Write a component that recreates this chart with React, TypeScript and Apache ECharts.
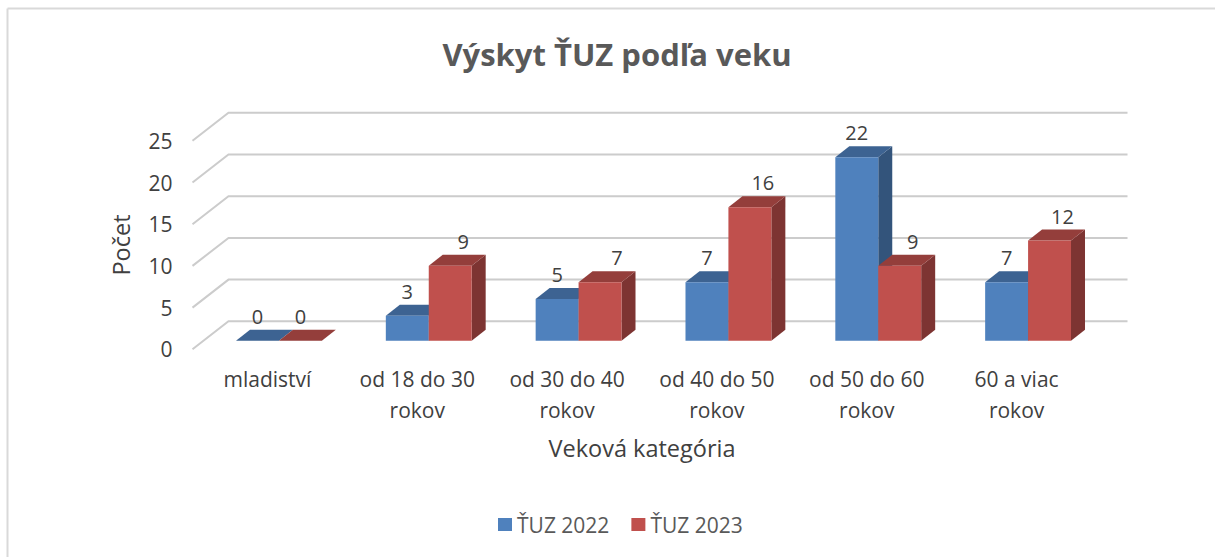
import React, { useEffect, useRef } from "react";
import * as echarts from "echarts";

const categories = [
  "mladiství",
  "od 18 do 30\nrokov",
  "od 30 do 40\nrokov",
  "od 40 do 50\nrokov",
  "od 50 do 60\nrokov",
  "60 a viac\nrokov",
];
const values2022 = [0, 3, 5, 7, 22, 7];
const values2023 = [0, 9, 7, 16, 9, 12];
const gridTicks = [0, 5, 10, 15, 20, 25];
const FONT = "'Open Sans', 'Noto Sans', sans-serif";

const darken = (hex: string, f: number) => {
  const n = parseInt(hex.slice(1), 16);
  const c = [(n >> 16) & 255, (n >> 8) & 255, n & 255].map((v) => Math.round(v * f));
  return `rgb(${c[0]},${c[1]},${c[2]})`;
};

const bar3d = (seriesIdx: number, color: string) => (params: any, api: any) => {
  const idx = api.value(0);
  const v = api.value(1);
  const band = api.size([1, 0])[0];
  const w = band * 0.2865;
  const [cx, yTop] = api.coord([idx, v]);
  const [, yBase] = api.coord([idx, 0]);
  const x0 = cx + 11.5 + (seriesIdx === 0 ? -w : 0);
  const x1 = x0 + w;
  const top = yTop - 8.6;
  const base = yBase - 8.6;
  const dx = 14;
  const dy = 11;
  const nudge = seriesIdx === 0 || v === 0 ? 0 : idx === 2 ? 17 : 13;
  return {
    type: "group",
    children: [
      { type: "polygon", shape: { points: [[x1, top], [x1 + dx, top - dy], [x1 + dx, base - dy], [x1, base]] }, style: { fill: darken(color, 0.65) } },
      { type: "polygon", shape: { points: [[x0, top], [x1, top], [x1 + dx, top - dy], [x0 + dx, top - dy]] }, style: { fill: darken(color, 0.77) } },
      { type: "rect", shape: { x: x0, y: top, width: w, height: base - top }, style: { fill: color } },
      {
        type: "text",
        style: {
          text: String(v),
          x: (x0 + x1) / 2 + nudge,
          y: top - 24.5,
          align: "center",
          verticalAlign: "middle",
          fill: "#404040",
          font: `20px ${FONT}`,
        },
      },
    ],
  };
};

const wallGrid = (params: any, api: any) => {
  const [x, y] = api.coord([0, api.value(1)]);
  const left = params.coordSys.x;
  const right = left + params.coordSys.width;
  return {
    type: "polyline",
    shape: { points: [[left, y], [left + 36, y - 28], [right + 36, y - 28]] },
    style: { fill: "none", stroke: "#cccccc", lineWidth: 2 },
  };
};

export default function App() {
  const ref = useRef<HTMLDivElement>(null);
  useEffect(() => {
    document.body.style.margin = "0";
    const chart = echarts.init(ref.current!, null, { renderer: "svg" });
    chart.setOption({
      animation: false,
      backgroundColor: "#ffffff",
      textStyle: { fontFamily: FONT },
      title: {
        text: "Výskyt ŤUZ podľa veku",
        left: 612,
        top: 33,
        textAlign: "center",
        textStyle: { fontFamily: FONT, fontSize: 31, fontWeight: "bold", color: "#595959" },
      },
      legend: {
        left: 493,
        top: 509,
        icon: "rect",
        itemWidth: 14,
        itemHeight: 13,
        itemGap: 22,
        data: ["ŤUZ 2022", "ŤUZ 2023"],
        textStyle: { fontFamily: FONT, fontSize: 21, color: "#595959" },
      },
      grid: { left: 192.5, width: 899, top: 140.8, height: 208.5 },
      xAxis: {
        type: "category",
        data: categories,
        axisLine: { show: false },
        axisTick: { show: false },
        axisLabel: { fontFamily: FONT, fontSize: 21, color: "#404040", lineHeight: 31, margin: 14, interval: 0 },
        name: "Veková kategória",
        nameLocation: "middle",
        nameGap: 87,
        nameTextStyle: { fontFamily: FONT, fontSize: 23.5, color: "#404040" },
      },
      yAxis: {
        type: "value",
        min: 0,
        max: 25,
        interval: 5,
        axisLine: { show: false },
        axisTick: { show: false },
        splitLine: { show: false },
        axisLabel: { fontFamily: FONT, fontSize: 21, color: "#404040", margin: 20, padding: [0, 0, 3, 0] },
        name: "Počet",
        nameLocation: "middle",
        nameGap: 60,
        nameTextStyle: { fontFamily: FONT, fontSize: 23.5, color: "#404040" },
      },
      graphic: [
        { type: "line", shape: { x1: 7.5, y1: 8.5, x2: 7.5, y2: 557 }, style: { stroke: "#d9d9d9", lineWidth: 2 }, silent: true },
        { type: "line", shape: { x1: 7.5, y1: 8.5, x2: 1215, y2: 8.5 }, style: { stroke: "#d9d9d9", lineWidth: 2 }, silent: true },
      ],
      series: [
        {
          type: "custom",
          name: "grid",
          silent: true,
          z: 1,
          renderItem: wallGrid,
          data: gridTicks.map((t) => [0, t]),
          encode: { x: 0, y: 1 },
        },
        {
          type: "custom",
          name: "ŤUZ 2022",
          z: 2,
          itemStyle: { color: "#4f81bd" },
          renderItem: bar3d(0, "#4f81bd"),
          data: values2022.map((v, i) => [i, v]),
          encode: { x: 0, y: 1 },
        },
        {
          type: "custom",
          name: "ŤUZ 2023",
          z: 3,
          itemStyle: { color: "#c0504d" },
          renderItem: bar3d(1, "#c0504d"),
          data: values2023.map((v, i) => [i, v]),
          encode: { x: 0, y: 1 },
        },
      ],
    });
    return () => chart.dispose();
  }, []);
  return <div ref={ref} style={{ position: "absolute", left: 0, top: 0, width: 1215, height: 557 }} />;
}
